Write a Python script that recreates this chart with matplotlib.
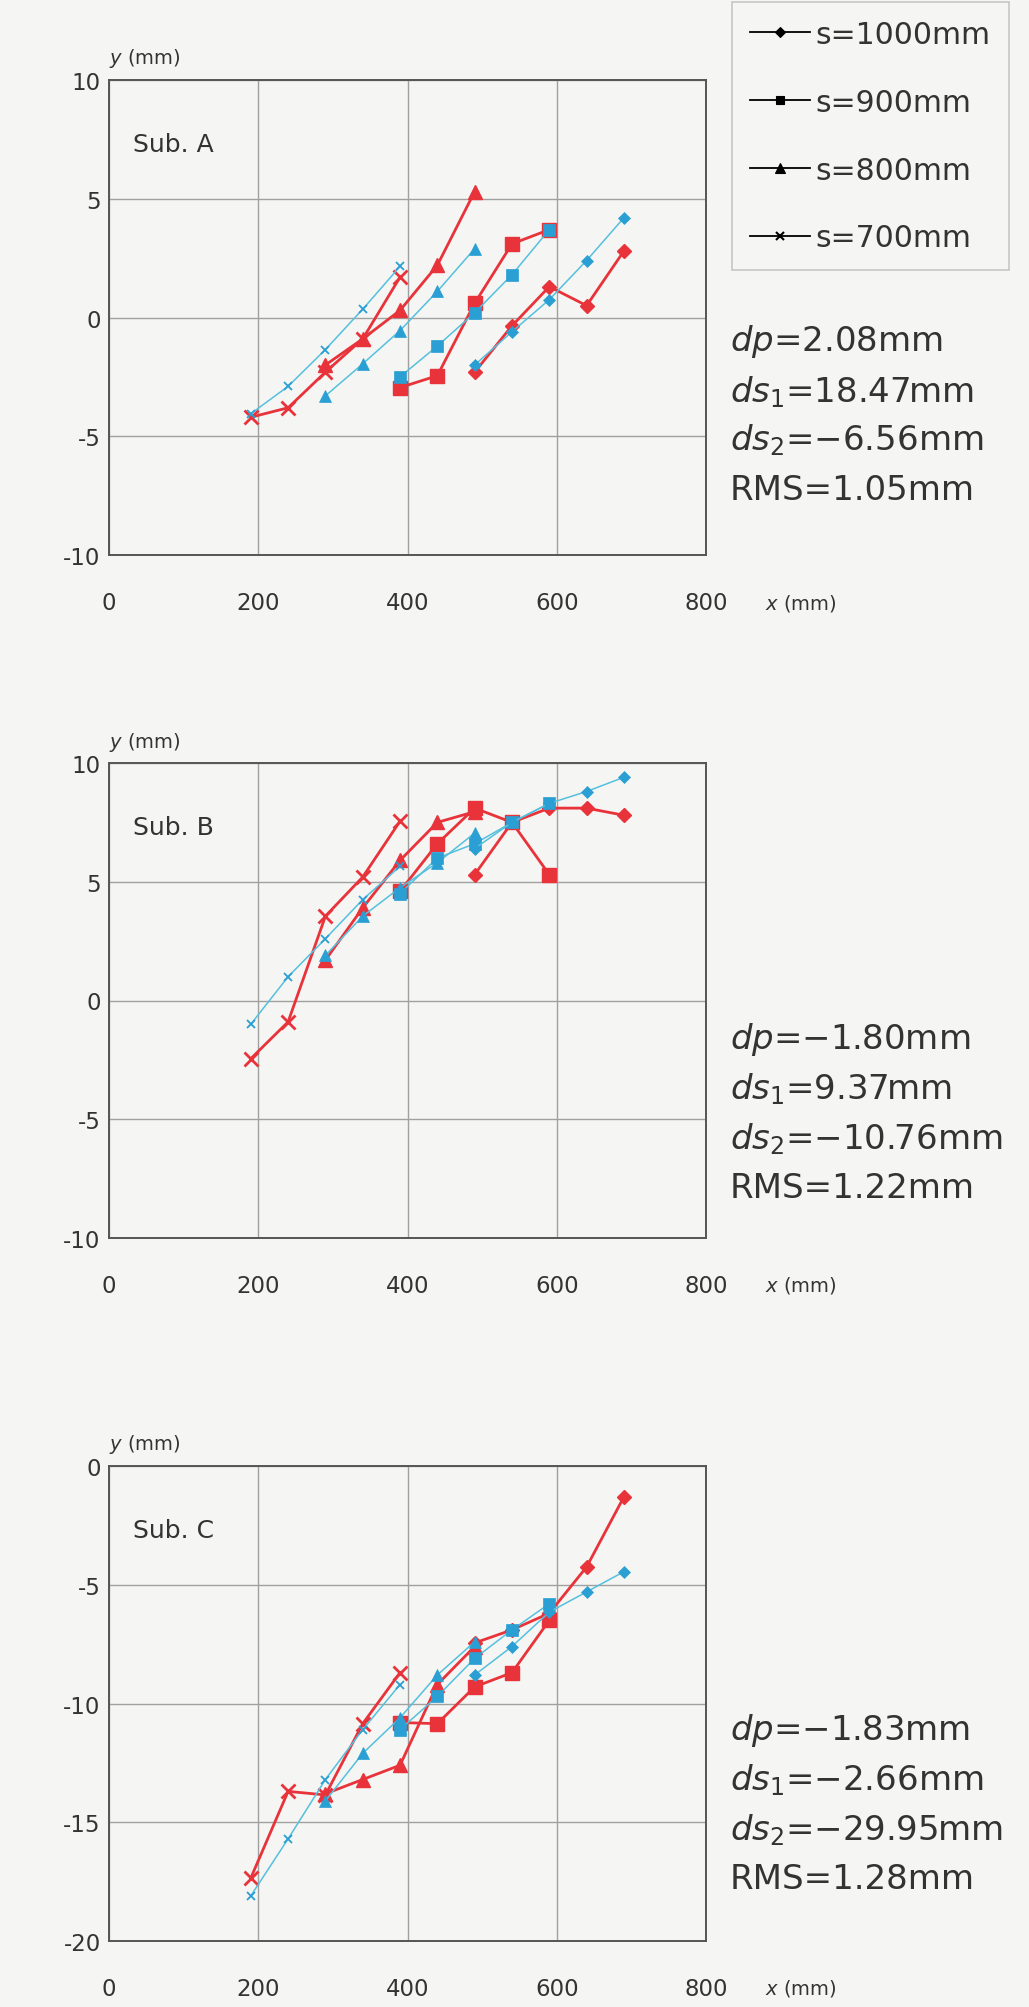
import matplotlib
matplotlib.use("Agg")
import matplotlib.pyplot as plt
from matplotlib.lines import Line2D

plt.rcParams['font.family'] = ['DejaVu Sans']
plt.rcParams['mathtext.fontset'] = 'dejavusans'
plt.rcParams['axes.unicode_minus'] = False

# ---------------- data ----------------
x700 = [190, 240, 290, 340, 390]
x800 = [290, 340, 390, 440, 490]
x900 = [390, 440, 490, 540, 590]
x1000 = [490, 540, 590, 640, 690]

# Sub. A
a700_red = [-4.2, -3.8, -2.3, -0.9, 1.7]
a700_blue = [-4.05, -2.9, -1.35, 0.35, 2.15]
a800_red = [-2.0, -0.9, 0.3, 2.2, 5.3]
a800_blue = [-3.3, -1.95, -0.55, 1.1, 2.9]
a900_red = [-2.95, -2.45, 0.6, 3.1, 3.7]
a900_blue = [-2.5, -1.2, 0.2, 1.8, 3.7]
a1000_red = [-2.3, -0.35, 1.3, 0.5, 2.8]
a1000_blue = [-2.0, -0.6, 0.75, 2.4, 4.2]

# Sub. B
b700_red = [-2.45, -0.9, 3.55, 5.2, 7.55]
b700_blue = [-1.0, 1.0, 2.6, 4.25, 5.65]
b800_red = [1.7, 3.9, 5.9, 7.5, 7.95]
b800_blue = [1.9, 3.55, 4.75, 5.8, 7.05]
b900_red = [4.6, 6.6, 8.1, 7.5, 5.3]
b900_blue = [4.5, 6.0, 6.6, 7.5, 8.3]
b1000_red = [5.3, 7.5, 8.1, 8.1, 7.8]
b1000_blue = [6.4, 7.5, 8.3, 8.8, 9.4]

# Sub. C
c700_red = [-17.35, -13.7, -13.85, -10.85, -8.7]
c700_blue = [-18.1, -15.7, -13.2, -11.1, -9.2]
c800_red = [-13.8, -13.2, -12.6, -9.2, -7.6]
c800_blue = [-14.1, -12.1, -10.6, -8.8, -7.4]
c900_red = [-10.8, -10.85, -9.3, -8.7, -6.5]
c900_blue = [-11.1, -9.7, -8.1, -6.9, -5.8]
c1000_red = [-7.45, -6.9, -6.2, -4.25, -1.3]
c1000_blue = [-8.8, -7.6, -6.15, -5.3, -4.45]

legend_labels = ["s=1000mm", "s=900mm", "s=800mm", "s=700mm"]
panel_names = ["Sub. A", "Sub. B", "Sub. C"]
panel_ylims = [(-10, 10), (-10, 10), (-20, 0)]
panel_yticks = [[-10, -5, 0, 5, 10], [-10, -5, 0, 5, 10], [-20, -15, -10, -5, 0]]
xticks = [0, 200, 400, 600, 800]

stats_A = ["$dp$=2.08mm", "$ds_1$=18.47mm", "$ds_2$=\u22126.56mm", "RMS=1.05mm"]
stats_B = ["$dp$=\u22121.80mm", "$ds_1$=9.37mm", "$ds_2$=\u221210.76mm", "RMS=1.22mm"]
stats_C = ["$dp$=\u22121.83mm", "$ds_1$=\u22122.66mm", "$ds_2$=\u221229.95mm", "RMS=1.28mm"]

panels = [
    [(x700, a700_red, a700_blue), (x800, a800_red, a800_blue),
     (x900, a900_red, a900_blue), (x1000, a1000_red, a1000_blue)],
    [(x700, b700_red, b700_blue), (x800, b800_red, b800_blue),
     (x900, b900_red, b900_blue), (x1000, b1000_red, b1000_blue)],
    [(x700, c700_red, c700_blue), (x800, c800_red, c800_blue),
     (x900, c900_red, c900_blue), (x1000, c1000_red, c1000_blue)],
]
stats = [stats_A, stats_B, stats_C]

# ---------------- style ----------------
W, H = 1029, 2008
BG = '#f5f5f3'
RED = '#e8333b'
BLUE_M = '#2a9fd4'
BLUE_L = '#55c0de'
markers = ['x', '^', 's', 'D']          # order: 700, 800, 900, 1000
red_ms = [10, 10, 10, 7]
blue_ms = [6, 8, 8, 6]

fig = plt.figure(figsize=(W / 100, H / 100), dpi=100, facecolor=BG)

ax_tops = [81, 764, 1467]
ax_left, ax_w, ax_h = 109, 597, 475
stat_y = [[342, 392, 440, 490], [1039, 1089, 1139, 1188], [1731, 1780, 1830, 1880]]

for i in range(3):
    top = ax_tops[i]
    ax = fig.add_axes([ax_left / W, 1 - (top + ax_h) / H, ax_w / W, ax_h / H])
    ax.set_facecolor(BG)
    ax.set_xlim(0, 800)
    ax.set_ylim(*panel_ylims[i])
    ax.set_xticks(xticks)
    ax.set_yticks(panel_yticks[i])
    ax.grid(True, color='#a0a0a0', linewidth=1.0)
    ax.set_axisbelow(True)
    for sp in ax.spines.values():
        sp.set_color('#555555')
        sp.set_linewidth(1.4)
    ax.tick_params(axis='both', length=0, labelsize=16.5, colors='#333333')
    ax.tick_params(axis='x', pad=26)
    ax.tick_params(axis='y', pad=6)

    for k, (xs, red, blue) in enumerate(panels[i]):
        ax.plot(xs, red, color=RED, lw=2.0, marker=markers[k], ms=red_ms[k],
                mew=2.0 if markers[k] == 'x' else 1.0, mec=RED, mfc=RED, zorder=3)
        ax.plot(xs, blue, color=BLUE_L, lw=1.1, marker=markers[k], ms=blue_ms[k],
                mew=1.3 if markers[k] == 'x' else 0.5, mec=BLUE_M, mfc=BLUE_M, zorder=4)

    ax.text(24 / ax_w, 1 - 64 / ax_h, panel_names[i], transform=ax.transAxes,
            fontsize=18, color='#333333', ha='left', va='center')
    ax.text(0.0, 1 + 22 / ax_h, '$y$ (mm)', transform=ax.transAxes,
            fontsize=14, color='#333333', ha='left', va='center')
    ax.text((765 - ax_left) / ax_w, -47 / ax_h, '$x$ (mm)', transform=ax.transAxes,
            fontsize=14, color='#333333', ha='left', va='center')

    for j, s in enumerate(stats[i]):
        fig.text(730 / W, 1 - stat_y[i][j] / H, s, fontsize=24.5, color='#333333',
                 ha='left', va='center')

handles = [Line2D([], [], color='black', lw=1.3, marker=m, ms=ms, mfc='black', mec='black',
                  mew=1.5 if m == 'x' else 0.8)
           for m, ms in zip(['D', 's', '^', 'x'], [5, 6, 7, 6])]
leg = fig.legend(handles, legend_labels, loc='upper left',
                 bbox_to_anchor=(732 / W, 1 - 3 / H), fontsize=21.5,
                 frameon=True, fancybox=False, edgecolor='#bbbbbb', facecolor=BG,
                 handlelength=2.0, handletextpad=0.2, labelspacing=1.3,
                 borderpad=0.6, borderaxespad=0)
leg.get_frame().set_linewidth(1.2)
for t in leg.get_texts():
    t.set_color('#333333')

fig.savefig('out.png', dpi=100, facecolor=BG)
